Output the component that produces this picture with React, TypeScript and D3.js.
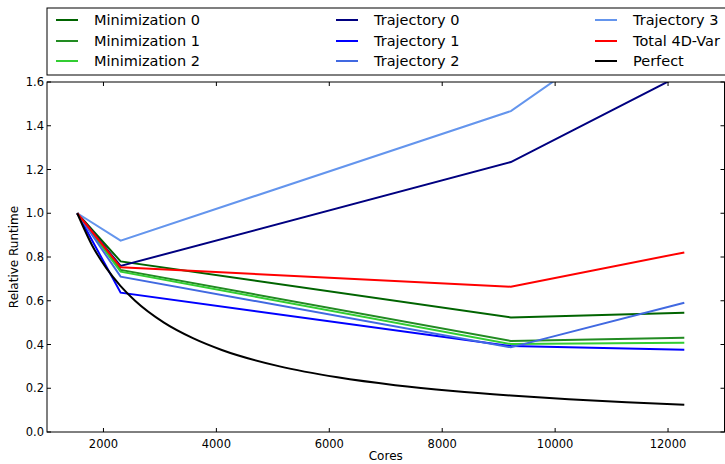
import React, { useEffect, useRef } from 'react'
import * as d3 from 'd3'

// cores where each run was measured
const cores = [1536, 2304, 9216, 12288]

const minimization0 = [1.0, 0.78, 0.524, 0.545]
const minimization1 = [1.0, 0.741, 0.416, 0.431]
const minimization2 = [1.0, 0.733, 0.402, 0.408]
const trajectory0 = [1.0, 0.759, 1.234, 1.64]
const trajectory1 = [1.0, 0.637, 0.393, 0.376]
const trajectory2 = [1.0, 0.71, 0.387, 0.591]
const trajectory3 = [1.0, 0.875, 1.467, 2.02]
const total4dvar = [1.0, 0.753, 0.664, 0.821]

// the "perfect" scaling curve, read at more points since it bends
const perfectCores = [1536, 1800, 2048, 2304, 2560, 3072, 3584, 4096, 5120, 6144, 7168, 8192, 9216, 10240, 11264, 12288]
const perfectValues = [1.0, 0.853, 0.75, 0.667, 0.6, 0.5, 0.429, 0.375, 0.3, 0.25, 0.214, 0.1875, 0.167, 0.15, 0.136, 0.125]

const xTicks = [2000, 4000, 6000, 8000, 10000, 12000]
const yTicks = [0.0, 0.2, 0.4, 0.6, 0.8, 1.0, 1.2, 1.4, 1.6]

const series = [
  { name: 'Minimization 0', color: '#006400', x: cores, y: minimization0 },
  { name: 'Minimization 1', color: '#228B22', x: cores, y: minimization1 },
  { name: 'Minimization 2', color: '#32CD32', x: cores, y: minimization2 },
  { name: 'Trajectory 0', color: '#000080', x: cores, y: trajectory0 },
  { name: 'Trajectory 1', color: '#0000FF', x: cores, y: trajectory1 },
  { name: 'Trajectory 2', color: '#4169E1', x: cores, y: trajectory2 },
  { name: 'Trajectory 3', color: '#6495ED', x: cores, y: trajectory3 },
  { name: 'Total 4D-Var', color: '#FF0000', x: cores, y: total4dvar },
  { name: 'Perfect', color: '#000000', x: perfectCores, y: perfectValues },
]

export default function App() {
  const svgRef = useRef<SVGSVGElement>(null)

  useEffect(() => {
    document.body.style.margin = '0'
    const width = 725
    const height = 464
    const margin = { top: 82, right: 0.5, bottom: 32, left: 47 }
    const font = 'DejaVu Sans, sans-serif'

    const svg = d3.select(svgRef.current)
    svg.selectAll('*').remove()
    svg.attr('width', width).attr('height', height)

    const x = d3.scaleLinear().domain([1000, 13000]).range([margin.left, width - margin.right])
    const y = d3.scaleLinear().domain([0, 1.6]).range([height - margin.bottom, margin.top])

    svg.append('defs').append('clipPath').attr('id', 'plotclip')
      .append('rect')
      .attr('x', x(1000)).attr('y', y(1.6))
      .attr('width', x(13000) - x(1000)).attr('height', y(0) - y(1.6))

    const line = d3.line<[number, number]>().x(d => x(d[0])).y(d => y(d[1]))
    const curve = d3.line<[number, number]>().x(d => x(d[0])).y(d => y(d[1])).curve(d3.curveMonotoneX)

    const g = svg.append('g').attr('clip-path', 'url(#plotclip)')
    series.forEach(s => {
      const pts = s.x.map((c, i) => [c, s.y[i]] as [number, number])
      g.append('path')
        .attr('d', (s.name === 'Perfect' ? curve : line)(pts))
        .attr('fill', 'none')
        .attr('stroke', s.color)
        .attr('stroke-width', 2)
        .attr('stroke-linejoin', 'miter')
    })

    // frame
    svg.append('rect')
      .attr('x', x(1000)).attr('y', y(1.6))
      .attr('width', x(13000) - x(1000)).attr('height', y(0) - y(1.6))
      .attr('fill', 'none').attr('stroke', '#000').attr('stroke-width', 1)

    // inward ticks, all four sides
    const tk = 4
    xTicks.forEach(t => {
      svg.append('line').attr('x1', x(t)).attr('x2', x(t)).attr('y1', y(0)).attr('y2', y(0) - tk).attr('stroke', '#000')
      svg.append('line').attr('x1', x(t)).attr('x2', x(t)).attr('y1', y(1.6)).attr('y2', y(1.6) + tk).attr('stroke', '#000')
      svg.append('text').attr('x', x(t)).attr('y', y(0) + 16)
        .attr('text-anchor', 'middle').attr('font-family', font).attr('font-size', 11.5)
        .text(String(t))
    })
    yTicks.forEach(t => {
      svg.append('line').attr('x1', x(1000)).attr('x2', x(1000) + tk).attr('y1', y(t)).attr('y2', y(t)).attr('stroke', '#000')
      svg.append('line').attr('x1', x(13000)).attr('x2', x(13000) - tk).attr('y1', y(t)).attr('y2', y(t)).attr('stroke', '#000')
      svg.append('text').attr('x', x(1000) - 3).attr('y', y(t)).attr('dy', '0.35em')
        .attr('text-anchor', 'end').attr('font-family', font).attr('font-size', 11.5)
        .text(d3.format('.1f')(t))
    })

    svg.append('text')
      .attr('x', (x(1000) + x(13000)) / 2).attr('y', height - 4)
      .attr('text-anchor', 'middle').attr('font-family', font).attr('font-size', 12)
      .text('Cores')
    svg.append('text')
      .attr('transform', `translate(18,${(y(0) + y(1.6)) / 2}) rotate(-90)`)
      .attr('text-anchor', 'middle').attr('font-family', font).attr('font-size', 12)
      .text('Relative Runtime')

    // legend, three columns
    const legend = svg.append('g')
    legend.append('rect')
      .attr('x', 47).attr('y', 8).attr('width', 700).attr('height', 67)
      .attr('fill', '#fff').attr('stroke', '#000').attr('stroke-width', 1)
    const colX = [56, 336, 595]
    const rowY = [20, 41, 61]
    series.forEach((s, i) => {
      const cx = colX[Math.floor(i / 3)]
      const cy = rowY[i % 3]
      legend.append('line').attr('x1', cx).attr('x2', cx + 22).attr('y1', cy).attr('y2', cy)
        .attr('stroke', s.color).attr('stroke-width', 2)
      legend.append('text').attr('x', cx + 38).attr('y', cy).attr('dy', '0.35em')
        .attr('font-family', font).attr('font-size', 14.5)
        .text(s.name)
    })
  }, [])

  return <svg ref={svgRef} style={{ display: 'block' }}></svg>
}
